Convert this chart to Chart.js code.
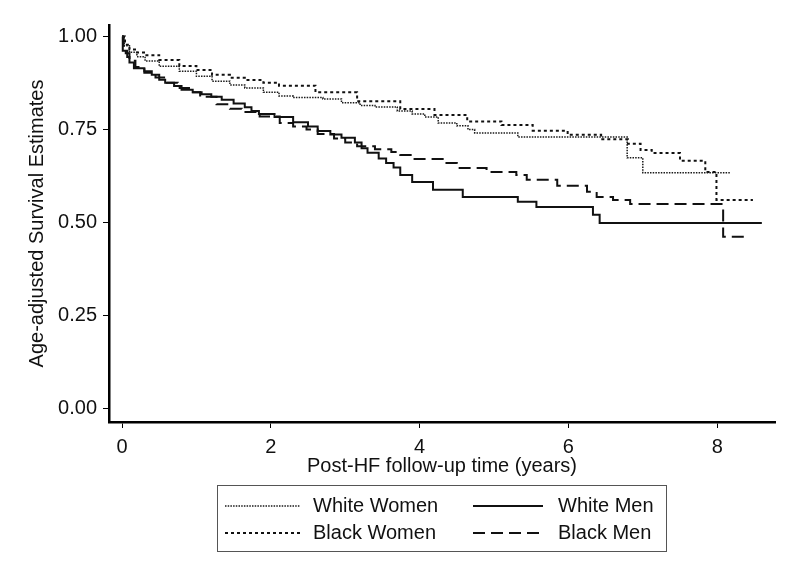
<!DOCTYPE html>
<html><head><meta charset="utf-8">
<script src="https://cdn.jsdelivr.net/npm/chart.js@4.4.0/dist/chart.umd.min.js"></script>
<style>html,body{margin:0;padding:0;background:#fff}</style>
</head><body>
<canvas id="c" width="800" height="584"></canvas>
<script>
const seriesNames = ['White Women', 'Black Women', 'White Men', 'Black Men'];
const xTicks = [0, 2, 4, 6, 8];
const yTicks = [0, 0.25, 0.5, 0.75, 1];
const xTitle = 'Post-HF follow-up time (years)';
const yTitle = 'Age-adjusted Survival Estimates';

const wwT = [0, 0.03, 0.1, 0.2, 0.31, 0.5, 0.77, 1.0, 1.21, 1.45, 1.65, 1.9, 2.11, 2.3, 2.7, 2.95, 3.2, 3.4, 3.7, 3.9, 4.07, 4.25, 4.5, 4.65, 4.74, 5.32, 6.79, 7.0, 8.17];
const wwS = [1.0, 0.975, 0.958, 0.946, 0.934, 0.92, 0.907, 0.893, 0.88, 0.87, 0.862, 0.85, 0.84, 0.836, 0.832, 0.822, 0.815, 0.811, 0.8, 0.792, 0.784, 0.768, 0.76, 0.75, 0.741, 0.73, 0.674, 0.634, 0.634];

const bwT = [0, 0.04, 0.1, 0.2, 0.31, 0.5, 0.77, 1.0, 1.21, 1.45, 1.65, 1.9, 2.11, 2.6, 3.16, 3.74, 4.2, 4.64, 5.1, 5.52, 5.99, 6.44, 6.8, 6.97, 7.12, 7.5, 7.84, 7.99, 8.48];
const bwS = [1.0, 0.978, 0.965, 0.957, 0.95, 0.937, 0.921, 0.91, 0.897, 0.889, 0.883, 0.876, 0.868, 0.85, 0.826, 0.805, 0.789, 0.772, 0.762, 0.747, 0.736, 0.724, 0.712, 0.695, 0.687, 0.666, 0.636, 0.561, 0.561];

const wmT = [0, 0.01, 0.07, 0.1, 0.16, 0.3, 0.4, 0.5, 0.58, 0.7, 0.8, 0.95, 1.07, 1.2, 1.34, 1.5, 1.65, 1.74, 1.84, 2.05, 2.3, 2.5, 2.63, 2.8, 2.95, 3.13, 3.22, 3.3, 3.45, 3.55, 3.65, 3.74, 3.9, 4.18, 4.58, 5.32, 5.57, 6.33, 6.42, 8.6];
const wmS = [1.0, 0.962, 0.945, 0.93, 0.915, 0.907, 0.897, 0.884, 0.876, 0.867, 0.857, 0.85, 0.845, 0.838, 0.83, 0.82, 0.81, 0.8, 0.792, 0.784, 0.77, 0.758, 0.746, 0.737, 0.728, 0.715, 0.7, 0.688, 0.672, 0.66, 0.648, 0.628, 0.609, 0.588, 0.569, 0.556, 0.542, 0.521, 0.499, 0.499];

const bmT = [0, 0.02, 0.05, 0.1, 0.18, 0.3, 0.45, 0.6, 0.75, 0.9, 1.05, 1.27, 1.45, 1.61, 1.85, 2.12, 2.3, 2.48, 2.63, 2.85, 3.0, 3.16, 3.4, 3.62, 3.74, 3.91, 4.31, 4.5, 4.9, 5.3, 5.44, 5.85, 6.25, 6.38, 6.6, 6.83, 8.08, 8.41];
const bmS = [1.0, 0.975, 0.955, 0.935, 0.918, 0.903, 0.89, 0.876, 0.862, 0.85, 0.838, 0.818, 0.806, 0.797, 0.785, 0.768, 0.758, 0.75, 0.738, 0.726, 0.715, 0.705, 0.697, 0.69, 0.682, 0.671, 0.66, 0.647, 0.636, 0.628, 0.615, 0.599, 0.583, 0.569, 0.561, 0.55, 0.462, 0.462];

const FONT = '"Liberation Sans", Arial, sans-serif';
const styles = [
  {color: '#1a1a1a', width: 1.5, dash: [1.5, 1.2]},
  {color: '#111', width: 2, dash: [3, 3]},
  {color: '#111', width: 2, dash: []},
  {color: '#111', width: 2, dash: [12, 6]}
];
const pairs = [[wwT, wwS], [bwT, bwS], [wmT, wmS], [bmT, bmS]];

const datasets = pairs.map((p, i) => ({
  label: seriesNames[i],
  data: p[0].map((t, j) => ({x: t, y: p[1][j]})),
  borderColor: styles[i].color,
  borderWidth: styles[i].width,
  borderDash: styles[i].dash,
  stepped: 'before',
  pointRadius: 0,
  fill: false,
  tension: 0
}));

const legendPlugin = {
  id: 'boxLegend',
  afterDraw(chart) {
    const ctx = chart.ctx;
    ctx.save();
    ctx.strokeStyle = '#555';
    ctx.lineWidth = 1;
    ctx.setLineDash([]);
    ctx.strokeRect(217.5, 485.5, 449, 66);
    const pos = [
      {lx0: 225, lx1: 300, tx: 313, y: 506},
      {lx0: 225, lx1: 300, tx: 313, y: 533},
      {lx0: 473, lx1: 543, tx: 558, y: 506},
      {lx0: 473, lx1: 543, tx: 558, y: 533}
    ];
    ctx.font = '20px ' + FONT;
    ctx.textBaseline = 'middle';
    ctx.textAlign = 'left';
    pos.forEach((p, i) => {
      const s = styles[i];
      ctx.beginPath();
      ctx.strokeStyle = s.color;
      ctx.lineWidth = s.width;
      ctx.setLineDash(s.dash);
      ctx.moveTo(p.lx0, p.y);
      ctx.lineTo(p.lx1, p.y);
      ctx.stroke();
      ctx.setLineDash([]);
      ctx.fillStyle = '#111';
      ctx.fillText(seriesNames[i], p.tx, p.y);
    });
    ctx.restore();
  }
};

new Chart(document.getElementById('c'), {
  type: 'line',
  data: {datasets},
  plugins: [legendPlugin],
  options: {
    responsive: false,
    animation: false,
    layout: {padding: {left: 0, right: 25, top: 25, bottom: 104}},
    plugins: {legend: {display: false}, tooltip: {enabled: false}},
    scales: {
      x: {
        type: 'linear',
        min: -0.175,
        max: 8.777,
        afterBuildTicks: s => { s.ticks = xTicks.map(v => ({value: v})); },
        afterFit: s => { s.height = 58; },
        ticks: {font: {size: 20, family: FONT}, color: '#111', padding: 7, autoSkip: false, maxRotation: 0, callback: v => String(v)},
        grid: {display: true, drawOnChartArea: false, drawTicks: true, tickLength: 6, color: '#000', lineWidth: 1},
        border: {display: true, color: '#000', width: 2.5},
        title: {display: true, text: xTitle, font: {size: 20, family: FONT}, color: '#111', padding: {top: 0, bottom: 2}}
      },
      y: {
        type: 'linear',
        min: -0.0357,
        max: 1.031,
        afterBuildTicks: s => { s.ticks = yTicks.map(v => ({value: v})); },
        afterFit: s => { s.width = 109; },
        ticks: {font: {size: 20, family: FONT}, color: '#111', padding: 6, autoSkip: false, callback: v => Number(v).toFixed(2)},
        grid: {display: true, drawOnChartArea: false, drawTicks: true, tickLength: 6, color: '#000', lineWidth: 1},
        border: {display: true, color: '#000', width: 2.5},
        title: {display: true, text: yTitle, font: {size: 20, family: FONT}, color: '#111', padding: {top: 25, bottom: 0}}
      }
    }
  }
});
</script>
</body></html>
